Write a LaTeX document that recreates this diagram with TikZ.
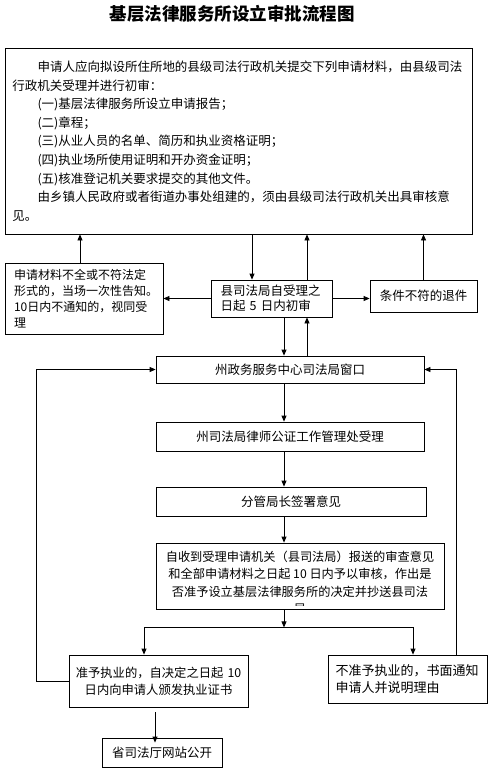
\documentclass[tikz,border=0pt]{standalone}
\usepackage{fontspec}
\setmainfont{Noto Sans CJK SC}
\usetikzlibrary{arrows.meta}
\begin{document}
\begin{tikzpicture}[x=1pt,y=-1pt,
	box/.style={draw, line width=0.8pt, inner sep=0pt, font=\fontsize{12.5}{16}\selectfont},
	arr/.style={-{Triangle[length=6pt,width=5pt]}, line width=0.8pt}]
		\useasboundingbox (0,0) rectangle (492,771);
		\node[font=\fontsize{17.5}{20}\selectfont\bfseries] (title) at (232,14) {基层法律服务所设立审批流程图};
		
		\node[box, minimum width=467, minimum height=186, text width=452, align=left, font=\fontsize{12.5}{18.6}\selectfont] (apply) at (238.5,141) {\hspace*{2em}申请人应向拟设所住所地的县级司法行政机关提交下列申请材料，由县级司法\\行政机关受理并进行初审：\\\hspace*{2em}(一)基层法律服务所设立申请报告；\\\hspace*{2em}(二)章程；\\\hspace*{2em}(三)从业人员的名单、简历和执业资格证明；\\\hspace*{2em}(四)执业场所使用证明和开办资金证明；\\\hspace*{2em}(五)核准登记机关要求提交的其他文件。\\\hspace*{2em}由乡镇人民政府或者街道办事处组建的，须由县级司法行政机关出具审核意\\见。};
		\node[box, minimum width=158, minimum height=71, text width=140, align=left, font=\fontsize{12}{16}\selectfont] (notice) at (84,298.5) {申请材料不全或不符法定\\形式的，当场一次性告知。\\10日内不通知的，视同受\\理};
		\node[box, minimum width=121, minimum height=37, text width=102, align=left, font=\fontsize{12.5}{15.5}\selectfont] (prelim) at (271.5,298.5) {县司法局自受理之\\日起 5 日内初审};
		\node[box, minimum width=107, minimum height=32] (refuse) at (423.5,296) {条件不符的退件};
		\node[box, minimum width=268, minimum height=27] (window) at (290,369.5) {州政务服务中心司法局窗口};
		\node[box, minimum width=268, minimum height=29] (bureau) at (290,436.5) {州司法局律师公证工作管理处受理};
		\node[box, minimum width=270, minimum height=29] (sign) at (291,501.5) {分管局长签署意见};
		\node[box, minimum width=288, minimum height=66] (review) at (300,576) {};
		\begin{scope}
			\clip (review.north west) rectangle ([yshift=4]review.south east);
			\node[align=center, font=\fontsize{12.2}{17.5}\selectfont] (reviewtext) at (300,583) {自收到受理申请机关（县司法局）报送的审查意见\\和全部申请材料之日起 10 日内予以审核，作出是\\否准予设立基层法律服务所的决定并抄送县司法\\局};
		\end{scope}
		\node[box, minimum width=179, minimum height=52, text width=170, align=center, font=\fontsize{12.3}{17}\selectfont] (approve) at (158.5,681) {准予执业的，自决定之日起 10\\日内向申请人颁发执业证书};
		\node[box, minimum width=159, minimum height=48, text width=144, align=left, font=\fontsize{13}{17}\selectfont] (deny) at (407.5,679) {不准予执业的，书面通知\\申请人并说明理由};
		\node[box, minimum width=120, minimum height=29] (publish) at (162,752.5) {省司法厅网站公开};
		
		\coordinate (down) at ([xshift=-19.5]prelim.north);
		\coordinate (up) at ([xshift=35.5]prelim.north);
		\coordinate (main) at (284,0);
		\draw[arr] (down |- apply.south) to (down);
		\draw[arr] (up) to (up |- apply.south);
		\draw[arr] ([xshift=-4]notice.north) to ([xshift=-4]notice.north |- apply.south);
		\draw[arr] (refuse.north) to (refuse.north |- apply.south);
		\draw[arr] (prelim.west) to (prelim.west -| notice.east);
		\draw[arr] (prelim.east) to (prelim.east -| refuse.west);
		\draw[arr] (prelim.south -| main) to (window.north -| main);
		\draw[arr] (window.north -| up) to (prelim.south -| up);
		\draw[arr] (window.south -| main) to (bureau.north -| main);
		\draw[arr] (bureau.south -| main) to (sign.north -| main);
		\draw[arr] (sign.south -| main) to (review.north -| main);
		\draw[arr] (review.south -| main) -- ++(0,18) coordinate (split);
		\draw[arr] (split) -| ([xshift=-14.5]approve.north);
		\draw[arr] (split) -| ([xshift=5.5]deny.north);
		\draw[arr] (approve.west) -- ++(-32,0) |- (window.west);
		\draw[arr] ([xshift=48.5]deny.north) |- (window.east);
		\draw[arr] ([xshift=-3.5,yshift=-5]approve.south) to ([xshift=-3.5,yshift=-5]approve.south |- publish.north);
		
	\end{tikzpicture}
\end{document}
